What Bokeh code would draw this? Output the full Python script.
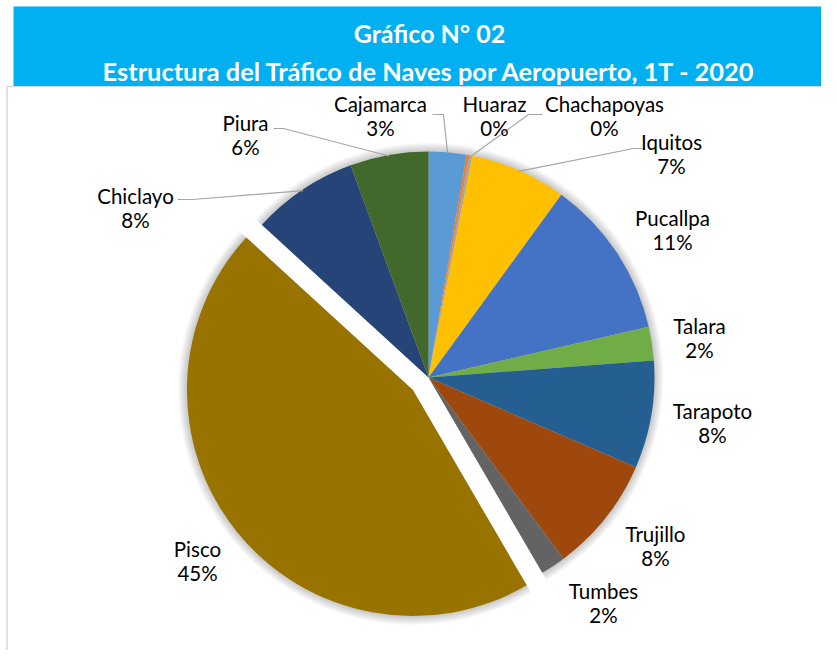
import numpy as np
from bokeh.plotting import figure
from bokeh.models import ColumnDataSource, Range1d
from bokeh.core.properties import value
from bokeh.embed import file_html
from bokeh.resources import INLINE

# ---- data ----
airports = ["Cajamarca", "Huaraz", "Chachapoyas", "Iquitos", "Pucallpa", "Talara",
            "Tarapoto", "Trujillo", "Tumbes", "Pisco", "Chiclayo", "Piura"]
shares = [2.7, 0.2, 0.2, 6.9, 11.4, 2.4, 7.7, 8.3, 1.8, 45.2, 7.6, 5.6]
colors = ["#5B9BD5", "#ED7D31", "#A5A5A5", "#FFC000", "#4472C4", "#70AD47",
          "#255E91", "#9E480E", "#636363", "#997300", "#264478", "#43682B"]
title1 = "Gráfico N° 02"
title2 = "Estructura del Tráfico de Naves por Aeropuerto, 1T - 2020"

# ---- layout (picture pixel coordinates: X right, Y down) ----
W, H = 821, 650
CX, CY, R = 428, 377, 226
EXPLODE = {"Pisco": 20}
label_pos = {
    "Cajamarca": (380, 103), "Huaraz": (494, 103), "Chachapoyas": (604, 103),
    "Iquitos": (671, 141), "Pucallpa": (672, 217), "Talara": (699, 325),
    "Tarapoto": (712, 410), "Trujillo": (655, 533), "Tumbes": (603, 590),
    "Pisco": (197, 548), "Chiclayo": (135, 195), "Piura": (245, 122),
}
leaders = {  # elbow and end points of leader lines
    "Cajamarca": [(443, 114), (432, 114)],
    "Chachapoyas": [(528, 114), (542, 114)],
    "Iquitos": [(633, 148), (642, 148)],
    "Piura": [(283, 128), (273, 128)],
    "Chiclayo": [(192, 199), (177, 199)],
}
LINE_GAP = 24
FONT = "Lato"

def dy(Y):
    return H - Y

p = figure(width=W, height=H, output_backend="svg", toolbar_location=None,
           x_range=Range1d(0, W), y_range=Range1d(0, H),
           min_border=0, outline_line_color=None,
           x_axis_location=None, y_axis_location=None)
p.grid.visible = False
p.background_fill_color = "white"
p.border_fill_color = "white"

# chart box border & title band
p.line(x=[6.5, 6.5, 900], y=[dy(700), dy(86), dy(86)], line_color="#D9D9D9", line_width=1.5)
p.quad(left=[13], right=[900], top=[dy(6)], bottom=[dy(85.5)], fill_color="#00B0F0", line_color=None)
p.text(x=[429], y=[dy(32)], text=[title1], text_align="center", text_baseline="middle",
       text_color="white", text_font=value(FONT), text_font_style="bold", text_font_size="25px")
p.text(x=[429], y=[dy(70)], text=[title2], text_align="center", text_baseline="middle",
       text_color="white", text_font=value(FONT), text_font_style="bold", text_font_size="25.4px")

# ---- pie ----
vals = np.array(shares, dtype=float)
frac = vals / vals.sum()
c1 = np.cumsum(frac)
c0 = c1 - frac
start = np.pi / 2 - 2 * np.pi * c0
end = np.pi / 2 - 2 * np.pi * c1
mid = (start + end) / 2
off = np.array([EXPLODE.get(a, 0) for a in airports], dtype=float)
xs = CX + off * np.cos(mid)
ys = dy(CY) + off * np.sin(mid)

src = ColumnDataSource(dict(x=xs, y=ys, start=start, end=end, color=colors, name=airports))

# soft shadow
for k in range(1, 10):
    p.wedge(x="x", y="y", radius=R + k, start_angle="start", end_angle="end", direction="clock",
            source=src, fill_color="black", fill_alpha=0.022, line_color=None)
p.wedge(x="x", y="y", radius=R, start_angle="start", end_angle="end", direction="clock",
        source=src, fill_color="color", line_color=None)

# leader lines (start on the slice's arc at its mid-angle)
for i, a in enumerate(airports):
    if a in leaders:
        sx = xs[i] + (R - 1) * np.cos(mid[i])
        sy = ys[i] + (R - 1) * np.sin(mid[i])
        pts = leaders[a]
        p.line(x=[sx] + [q[0] for q in pts], y=[sy] + [dy(q[1]) for q in pts],
               line_color="#A6A6A6", line_width=1.2)

# labels
names_x = [label_pos[a][0] for a in airports]
names_y = [dy(label_pos[a][1]) for a in airports]
pct_y = [dy(label_pos[a][1] + LINE_GAP) for a in airports]
pct_txt = [f"{round(v)}%" for v in vals * 100 / vals.sum()]
p.text(x=names_x, y=names_y, text=airports, text_align="center", text_baseline="middle",
       text_color="#000000", text_font=value(FONT), text_font_size="20.5px")
p.text(x=names_x, y=pct_y, text=pct_txt, text_align="center", text_baseline="middle",
       text_color="#000000", text_font=value(FONT), text_font_size="20.5px")

open("out.html", "w").write(file_html(p, INLINE))
